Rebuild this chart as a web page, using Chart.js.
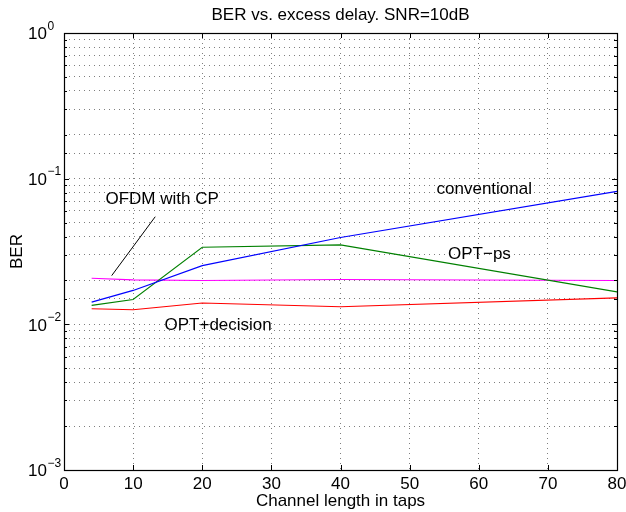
<!DOCTYPE html>
<html><head><meta charset="utf-8">
<script src="https://cdn.jsdelivr.net/npm/chart.js@4"></script>
<style>html,body{margin:0;padding:0;background:#fff}#wrap{width:626px;height:512px;position:relative}</style>
</head><body><div id="wrap"><canvas id="c" width="626" height="512"></canvas></div>
<script>
// ---- data ----
const channelTaps = [4, 10, 20, 40, 80];
const berConventional = [0.0142, 0.0171, 0.0253, 0.0395, 0.0818];
const berOptPs = [0.0135, 0.0148, 0.0338, 0.0351, 0.0167];
const berOfdmCp = [0.0207, 0.0202, 0.0200, 0.0203, 0.0200];
const berOptDecision = [0.0128, 0.0126, 0.0140, 0.0132, 0.0152];
const seriesNames = ['conventional', 'OPT\u2212ps', 'OFDM with CP', 'OPT+decision'];
const yMajorTicks = [0.001, 0.01, 0.1, 1];
const yTickBase = '10';
const yTickExponents = ['\u22123', '\u22122', '\u22121', '0'];
const annotationText = ['conventional', 'OPT\u2212ps', 'OFDM with CP', 'OPT+decision'];
const annotationX = [60.8, 60.1, 14.2, 22.3];
const annotationY = [0.084, 0.0301, 0.0718, 0.0098];
const pointerFrom = [6.9, 0.0216];
const pointerTo = [13.2, 0.0548];

const FONT = "'Liberation Sans', Arial, Helvetica, sans-serif";
const FS = 17;

const isMajor = v => yMajorTicks.some(m => Math.abs(Math.log10(m) - Math.log10(v)) < 1e-6);

const boxPlugin = {
  id: 'matlabBox',
  afterDraw(chart) {
    const {ctx, chartArea: a, scales: {x, y}} = chart;
    ctx.save();
    // inner tick marks
    ctx.strokeStyle = '#000';
    ctx.lineWidth = 1;
    ctx.beginPath();
    x.ticks.forEach(t => {
      const px = Math.round(x.getPixelForValue(t.value)) + 0.5;
      ctx.moveTo(px, a.bottom); ctx.lineTo(px, a.bottom - 5);
      ctx.moveTo(px, a.top); ctx.lineTo(px, a.top + 5);
    });
    y.ticks.forEach(t => {
      const len = isMajor(t.value) ? 5 : 3;
      const py = Math.round(y.getPixelForValue(t.value)) + 0.5;
      ctx.moveTo(a.left, py); ctx.lineTo(a.left + len, py);
      ctx.moveTo(a.right, py); ctx.lineTo(a.right - len, py);
    });
    ctx.stroke();
    // box
    ctx.lineWidth = 1.2;
    ctx.strokeRect(Math.round(a.left) + 0.5, Math.round(a.top) + 0.5, Math.round(a.right - a.left), Math.round(a.bottom - a.top));
    // y tick labels 10^n
    ctx.fillStyle = '#000';
    ctx.textAlign = 'left';
    ctx.textBaseline = 'middle';
    yMajorTicks.forEach((v, i) => {
      const py = y.getPixelForValue(v);
      ctx.font = FS + 'px ' + FONT;
      const bx = 28;
      ctx.fillText(yTickBase, bx, py + 1.5);
      const w = ctx.measureText(yTickBase).width;
      ctx.font = '12px ' + FONT;
      ctx.fillText(yTickExponents[i], bx + w + 0.5, py - 6.5);
    });
    // annotations
    ctx.font = FS + 'px ' + FONT;
    ctx.textAlign = 'center';
    ctx.textBaseline = 'middle';
    annotationText.forEach((txt, i) => {
      ctx.fillText(txt, x.getPixelForValue(annotationX[i]), y.getPixelForValue(annotationY[i]));
    });
    ctx.lineWidth = 1;
    ctx.beginPath();
    ctx.moveTo(x.getPixelForValue(pointerFrom[0]), y.getPixelForValue(pointerFrom[1]));
    ctx.lineTo(x.getPixelForValue(pointerTo[0]), y.getPixelForValue(pointerTo[1]));
    ctx.stroke();
    ctx.restore();
  }
};

const mk = (label, data, color) => ({
  label, data: data.map((v, i) => ({x: channelTaps[i], y: v})),
  borderColor: color, backgroundColor: color, borderWidth: 1.1,
  pointRadius: 0, tension: 0, fill: false
});

new Chart(document.getElementById('c'), {
  type: 'line',
  data: {
    datasets: [
      mk(seriesNames[0], berConventional, '#0000ff'),
      mk(seriesNames[1], berOptPs, '#008000'),
      mk(seriesNames[2], berOfdmCp, '#ff00ff'),
      mk(seriesNames[3], berOptDecision, '#ff0000')
    ]
  },
  options: {
    responsive: false,
    animation: false,
    layout: {padding: {left: 0, right: 9, top: 0, bottom: 0}},
    plugins: {
      legend: {display: false},
      tooltip: {enabled: false},
      title: {
        display: true, fullSize: false, text: 'BER vs. excess delay. SNR=10dB', color: '#000',
        font: {family: FONT, size: FS, weight: 'normal', lineHeight: 1.2},
        padding: {top: 5, bottom: 7.6}
      }
    },
    scales: {
      x: {
        type: 'linear', min: 0, max: 80,
        ticks: {stepSize: 10, color: '#000', font: {family: FONT, size: FS}, padding: 4, maxRotation: 0},
        grid: {color: 'rgba(0,0,0,0.5)', drawTicks: false, lineWidth: 1},
        border: {display: false, dash: [1, 4]},
        title: {display: true, text: 'Channel length in taps', color: '#000', font: {family: FONT, size: FS, lineHeight: 1.2}, padding: {top: 0, bottom: 0}},
        afterFit: s => { s.height = 42; s.paddingLeft = 0; s.paddingRight = 0; }
      },
      y: {
        type: 'logarithmic', min: 0.001, max: 1,
        ticks: {display: false, autoSkip: false},
        grid: {color: 'rgba(0,0,0,0.5)', drawTicks: false, lineWidth: 1},
        border: {display: false, dash: [1, 4]},
        title: {display: true, text: 'BER', color: '#000', font: {family: FONT, size: FS, lineHeight: 1.2}, padding: {top: 6.8, bottom: 0}},
        afterFit: s => { s.width = 64; s.paddingTop = 0; s.paddingBottom = 0; }
      }
    }
  },
  plugins: [boxPlugin]
});
</script></body></html>
